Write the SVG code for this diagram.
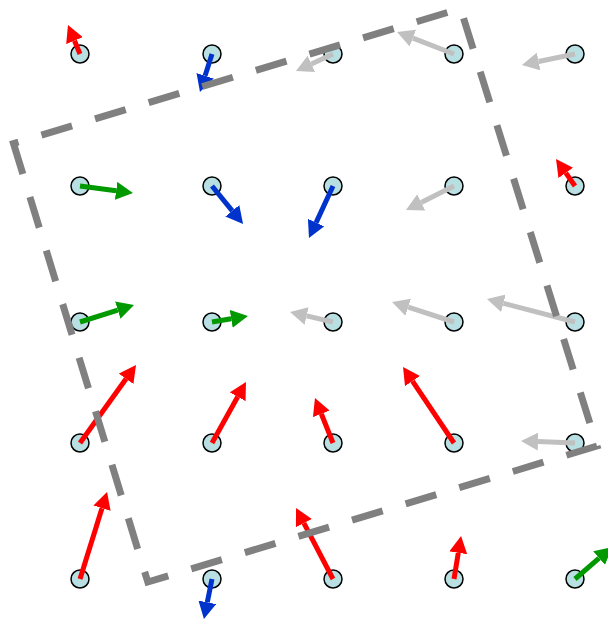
<svg xmlns="http://www.w3.org/2000/svg" width="608" height="620" viewBox="0 0 608 620">
<style>
.pt{fill:#b8e0e2;stroke:#000;stroke-width:1.5}
.ar{stroke-width:5;fill:none;stroke-linecap:butt}
.red{stroke:#ff0000;marker-end:url(#hRed)}
.blue{stroke:#0033cc;marker-end:url(#hBlue)}
.green{stroke:#009900;marker-end:url(#hGreen)}
.gray{stroke:#c0c0c0;marker-end:url(#hGray)}
.box{fill:none;stroke:#808080;stroke-width:7;stroke-dasharray:32 24}
</style>
<defs>
<marker id="hRed" viewBox="0 -9 17 18" refX="0" refY="0" markerWidth="17" markerHeight="18" markerUnits="userSpaceOnUse" orient="auto"><path d="M0,-9 L17,0 L0,9 Z" fill="#ff0000"/></marker>
<marker id="hBlue" viewBox="0 -9 17 18" refX="0" refY="0" markerWidth="17" markerHeight="18" markerUnits="userSpaceOnUse" orient="auto"><path d="M0,-9 L17,0 L0,9 Z" fill="#0033cc"/></marker>
<marker id="hGreen" viewBox="0 -9 17 18" refX="0" refY="0" markerWidth="17" markerHeight="18" markerUnits="userSpaceOnUse" orient="auto"><path d="M0,-9 L17,0 L0,9 Z" fill="#009900"/></marker>
<marker id="hGray" viewBox="0 -9 17 18" refX="0" refY="0" markerWidth="17" markerHeight="18" markerUnits="userSpaceOnUse" orient="auto"><path d="M0,-9 L17,0 L0,9 Z" fill="#c0c0c0"/></marker>
</defs>
<g id="nodes">
<g id="n-r1c1"><circle class="pt" cx="80" cy="54" r="9"/><line class="ar red" x1="80" y1="54" x2="74.5" y2="40.7"/></g>
<g id="n-r1c2"><circle class="pt" cx="212" cy="54" r="9"/><line class="ar blue" x1="212" y1="54" x2="205.1" y2="75.8"/></g>
<g id="n-r1c3"><circle class="pt" cx="333" cy="54" r="9"/><line class="ar gray" x1="333" y1="54" x2="311.4" y2="63.9"/></g>
<g id="n-r1c4"><circle class="pt" cx="454" cy="54" r="9"/><line class="ar gray" x1="454" y1="54" x2="412.9" y2="38.1"/></g>
<g id="n-r1c5"><circle class="pt" cx="575" cy="54" r="9"/><line class="ar gray" x1="575" y1="54" x2="538.6" y2="61.5"/></g>
<g id="n-r2c1"><circle class="pt" cx="80" cy="186" r="9"/><line class="ar green" x1="80" y1="186" x2="116.1" y2="190.8"/></g>
<g id="n-r2c2"><circle class="pt" cx="212" cy="186" r="9"/><line class="ar blue" x1="212" y1="186" x2="232.3" y2="210.8"/></g>
<g id="n-r2c3"><circle class="pt" cx="333" cy="186" r="9"/><line class="ar blue" x1="333" y1="186" x2="316.1" y2="222.6"/></g>
<g id="n-r2c4"><circle class="pt" cx="454" cy="186" r="9"/><line class="ar gray" x1="454" y1="186" x2="421.2" y2="202.4"/></g>
<g id="n-r2c5"><circle class="pt" cx="575" cy="186" r="9"/><line class="ar red" x1="575" y1="186" x2="565.8" y2="172.9"/></g>
<g id="n-r3c1"><circle class="pt" cx="80" cy="322" r="9"/><line class="ar green" x1="80" y1="322" x2="117.8" y2="310.1"/></g>
<g id="n-r3c2"><circle class="pt" cx="212" cy="322" r="9"/><line class="ar green" x1="212" y1="322" x2="231.2" y2="318.8"/></g>
<g id="n-r3c3"><circle class="pt" cx="333" cy="322" r="9"/><line class="ar gray" x1="333" y1="322" x2="306.6" y2="315.9"/></g>
<g id="n-r3c4"><circle class="pt" cx="454" cy="322" r="9"/><line class="ar gray" x1="454" y1="322" x2="408.2" y2="307.2"/></g>
<g id="n-r3c5"><circle class="pt" cx="575" cy="322" r="9"/><line class="ar gray" x1="575" y1="322" x2="503.4" y2="303.3"/></g>
<g id="n-r4c1"><circle class="pt" cx="80" cy="443" r="9"/><line class="ar red" x1="80" y1="443" x2="126.1" y2="378.8"/></g>
<g id="n-r4c2"><circle class="pt" cx="212" cy="443" r="9"/><line class="ar red" x1="212" y1="443" x2="237.7" y2="396.8"/></g>
<g id="n-r4c3"><circle class="pt" cx="333" cy="443" r="9"/><line class="ar red" x1="333" y1="443" x2="321.3" y2="413.8"/></g>
<g id="n-r4c4"><circle class="pt" cx="454" cy="443" r="9"/><line class="ar red" x1="454" y1="443" x2="412.5" y2="381.1"/></g>
<g id="n-r4c5"><circle class="pt" cx="575" cy="443" r="9"/><line class="ar gray" x1="575" y1="443" x2="538.0" y2="441.6"/></g>
<g id="n-r5c1"><circle class="pt" cx="80" cy="579" r="9"/><line class="ar red" x1="80" y1="579" x2="102.0" y2="508.2"/></g>
<g id="n-r5c2"><circle class="pt" cx="212" cy="579" r="9"/><line class="ar blue" x1="212" y1="579" x2="207.3" y2="602.3"/></g>
<g id="n-r5c3"><circle class="pt" cx="333" cy="579" r="9"/><line class="ar red" x1="333" y1="579" x2="303.9" y2="523.1"/></g>
<g id="n-r5c4"><circle class="pt" cx="454" cy="579" r="9"/><line class="ar red" x1="454" y1="579" x2="458.3" y2="552.8"/></g>
<g id="n-r5c5"><circle class="pt" cx="575" cy="579" r="9"/><line class="ar green" x1="575" y1="579" x2="599.1" y2="558.1"/></g>
</g>
<g id="connectors">
<polygon id="region" class="box" points="13.5,143.5 147.8,582 597,446 460.5,8.5"/>
</g>
</svg>
